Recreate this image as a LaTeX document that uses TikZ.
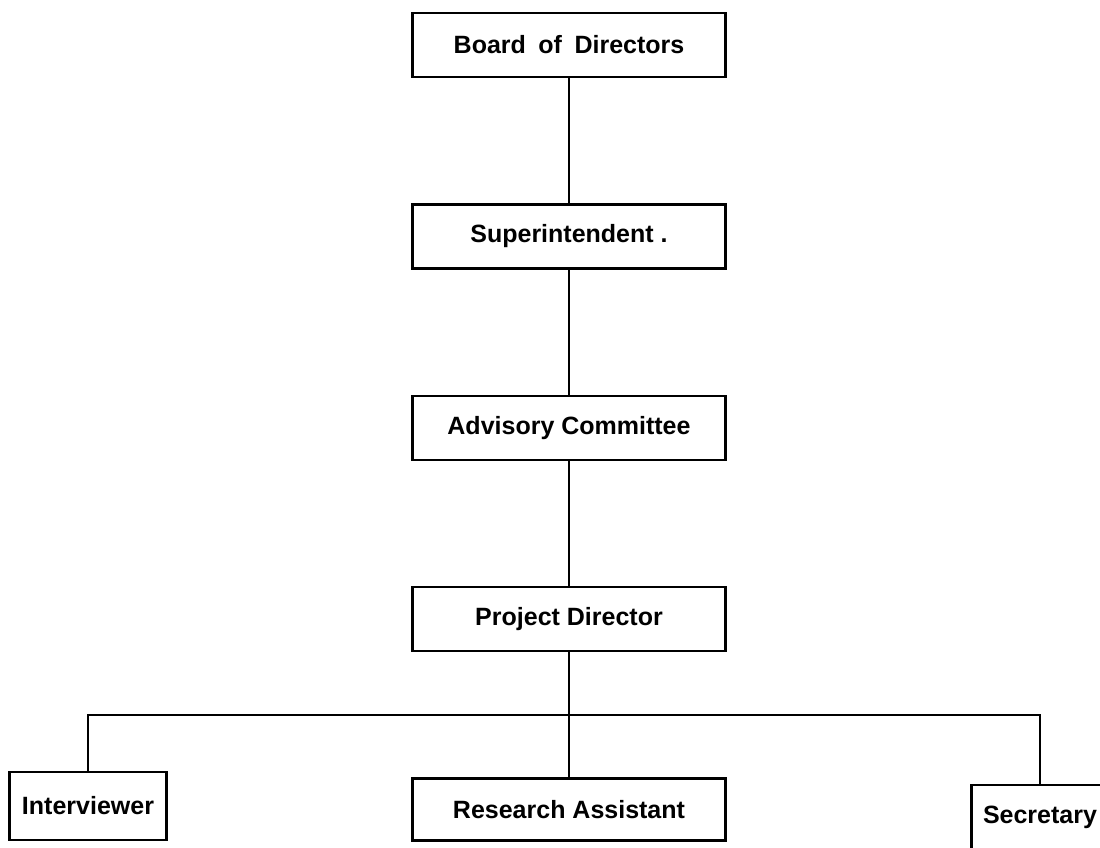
\documentclass[tikz,border=0pt]{standalone}
\usepackage{fontspec}
\setmainfont{Liberation Sans}
\usepackage{tikz}
\usetikzlibrary{positioning,calc}

\begin{document}
\begin{tikzpicture}[
    x=1pt, y=-1pt,
    node distance=125pt,
    unit/.style={draw=black, line width=2.4pt, fill=white, minimum width=313pt, minimum height=64pt, inner sep=0pt, align=center, font=\fontsize{25}{30}\selectfont\bfseries},
    link/.style={draw=black, line width=2.4pt}
]
    \useasboundingbox (0,0) rectangle (1100,848);

    \node[unit] (board) at (569,45) {Board\hspace{0.5em}of\hspace{0.5em}Directors};
    \node[unit, below=of board] (supt) {Superintendent .};
    \node[unit, below=of supt] (advis) {Advisory Committee};
    \node[unit, below=of advis] (proj) {Project Director};
    \node[unit, below=of proj, minimum height=62pt] (research) {Research Assistant};
    \node[unit, minimum width=157pt, minimum height=68pt] (interv) at (88,806) {Interviewer};
    \node[unit, minimum width=137pt, minimum height=72pt, text depth=12pt] (secr) at (1040,821) {Secretary};

    \coordinate (bus) at ($(proj.south)!0.5!(research.north)$);

    \draw[link] (board.south) -- (board.south |- supt.north);
    \draw[link] (supt.south) -- (supt.south |- advis.north);
    \draw[link] (advis.south) -- (advis.south |- proj.north);
    \draw[link] (proj.south) -- (research.north);
    \draw[link] (interv.north) |- (bus) -| (secr.north);
\end{tikzpicture}
\end{document}
